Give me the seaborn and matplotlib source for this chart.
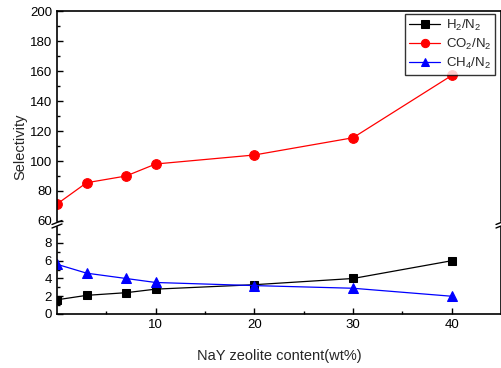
import matplotlib
matplotlib.use("Agg")
import matplotlib.pyplot as plt
import seaborn as sns
import pandas as pd

x_wt = [0, 3, 7, 10, 20, 30, 40]
h2_n2 = [1.6, 2.1, 2.4, 2.8, 3.3, 4.0, 6.0]
co2_n2 = [71.3, 85.5, 90.0, 98.0, 104.0, 115.5, 157.0]
ch4_n2 = [5.6, 4.6, 4.0, 3.55, 3.2, 2.9, 2.0]
series_labels = ["H$_2$/N$_2$", "CO$_2$/N$_2$", "CH$_4$/N$_2$"]
x_label = "NaY zeolite content(wt%)"
y_label = "Selectivity"

sns.set_style("ticks")
plt.rcParams['font.family'] = ['Liberation Sans', 'DejaVu Sans']
plt.rcParams['mathtext.fontset'] = 'custom'
plt.rcParams['mathtext.rm'] = 'Liberation Sans'
plt.rcParams['mathtext.it'] = 'Liberation Sans'

df = pd.DataFrame({"x": x_wt, "h2": h2_n2, "co2": co2_n2, "ch4": ch4_n2})

W, H = 502, 368
fig = plt.figure(figsize=(W / 100, H / 100), dpi=100)
L, R = 57 / W, 501 / W
ax_top = fig.add_axes([L, 1 - 221 / H, R - L, (221 - 11) / H])
ax_bot = fig.add_axes([L, 1 - 314 / H, R - L, (314 - 227) / H])

for ax in (ax_top, ax_bot):
    sns.lineplot(data=df, x="x", y="h2", ax=ax, color="black", marker="s", markersize=6,
                 markeredgecolor="black", linewidth=0.9, label=series_labels[0], legend=False)
    sns.lineplot(data=df, x="x", y="co2", ax=ax, color="red", marker="o", markersize=7,
                 markeredgecolor="red", linewidth=0.9, label=series_labels[1], legend=False)
    sns.lineplot(data=df, x="x", y="ch4", ax=ax, color="blue", marker="^", markersize=7.5,
                 markeredgecolor="blue", linewidth=0.9, label=series_labels[2], legend=False)
    ax.set_xlim(0, 45)
    for s in ax.spines.values():
        s.set_linewidth(1.2)
        s.set_color("black")
    ax.tick_params(direction="in", which="both", labelsize=9.5, colors="black", width=1)
    ax.tick_params(which="major", length=4)
    ax.tick_params(which="minor", length=2.5)
    ax.set_xlabel("")
    ax.set_ylabel("")
    ax.set_facecolor("white")

ax_top.set_ylim(60, 200)
ax_top.set_yticks(range(60, 201, 20))
ax_top.set_yticks(range(70, 200, 20), minor=True)
ax_top.spines["bottom"].set_visible(False)
ax_top.tick_params(axis="x", which="both", bottom=False, labelbottom=False)
ax_top.set_xticks([])

ax_bot.set_ylim(0, 9.8)
ax_bot.set_yticks([0, 2, 4, 6, 8])
ax_bot.set_yticks([1, 3, 5, 7, 9], minor=True)
ax_bot.spines["top"].set_visible(False)
ax_bot.set_xticks([10, 20, 30, 40])
ax_bot.set_xticks([5, 15, 25, 35], minor=True)
ax_bot.set_xlabel(x_label, fontsize=10.5, labelpad=13)

fig.text(20 / W, 1 - 147 / H, y_label, rotation=90, fontsize=10.5, ha="center", va="center")

# break marks
for xf in (L, R):
    for yp in (222.5, 226.0):
        yf = 1 - yp / H
        fig.add_artist(plt.Line2D([xf - 5 / W, xf + 5 / W], [yf - 2 / H, yf + 2 / H],
                                  color="black", linewidth=1.0))

leg = ax_top.legend(loc="upper right", bbox_to_anchor=(0.993, 1.0), fontsize=9.5,
                    frameon=True, fancybox=False, edgecolor="black", handlelength=2.4,
                    borderpad=0.3, labelspacing=0.3, handletextpad=0.4, borderaxespad=0.2,
                    markerscale=0.85)
leg.get_frame().set_linewidth(1.0)

fig.savefig("out.png", dpi=100)
